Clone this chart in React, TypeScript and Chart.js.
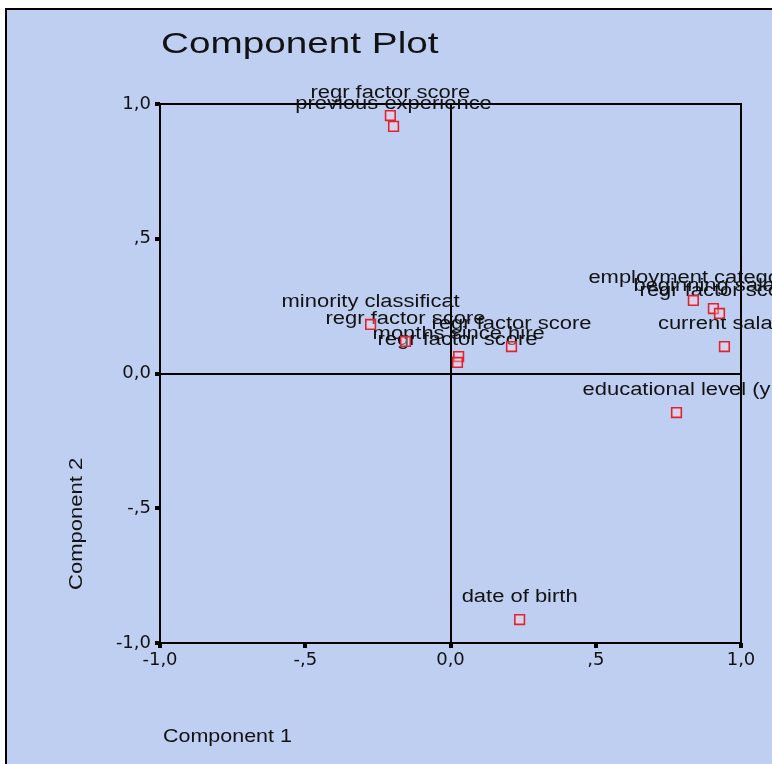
import React, { useEffect, useRef } from 'react';
import { Chart, registerables } from 'chart.js';

Chart.register(...registerables);

// ---- data ----
const variableNames = [
  'regr factor score',
  'previous experience',
  'minority classification',
  'regr factor score',
  'months since hire',
  'regr factor score',
  'regr factor score',
  'employment category',
  'beginning salary',
  'regr factor score',
  'current salary',
  'educational level (years)',
  'date of birth',
];
const component1 = [-0.207, -0.196, -0.275, -0.155, 0.028, 0.024, 0.21, 0.836, 0.905, 0.926, 0.943, 0.778, 0.238];
const component2 = [0.957, 0.917, 0.182, 0.119, 0.063, 0.041, 0.1, 0.271, 0.241, 0.223, 0.1, -0.145, -0.913];
const tickValues = [-1, -0.5, 0, 0.5, 1];
const tickLabels = ['-1,0', '-,5', '0,0', ',5', '1,0'];
const chartTitle = 'Component Plot';
const xTitle = 'Component 1';
const yTitle = 'Component 2';
const labelMaxChars = 20;

const BG = '#BFCFF1';
const TEXT = '#121212';
const FONT = '"Liberation Sans", Arial, sans-serif';

function tickText(value: number) {
  const i = tickValues.findIndex((t) => Math.abs(t - value) < 1e-9);
  return i >= 0 ? tickLabels[i] : '';
}

function wideText(ctx: CanvasRenderingContext2D, text: string, x: number, y: number, stretch: number, rot = 0) {
  ctx.save();
  ctx.translate(x, y);
  if (rot) ctx.rotate(rot);
  ctx.scale(stretch, 1);
  ctx.fillText(text, 0, 0);
  ctx.restore();
}

const decorPlugin = {
  id: 'decor',
  beforeDraw(chart: any) {
    const { ctx, width, height } = chart;
    ctx.save();
    ctx.fillStyle = '#ffffff';
    ctx.fillRect(0, 0, width, height);
    ctx.fillStyle = BG;
    ctx.fillRect(5, 8, width - 5, height - 8);
    ctx.fillStyle = '#000000';
    ctx.fillRect(5, 8, width - 5, 2);
    ctx.fillRect(5, 8, 2, height - 8);
    ctx.restore();
  },
  beforeDatasetsDraw(chart: any) {
    const { ctx, chartArea } = chart;
    ctx.save();
    // frame
    ctx.strokeStyle = '#000000';
    ctx.lineWidth = 2;
    ctx.strokeRect(chartArea.left, chartArea.top, chartArea.right - chartArea.left, chartArea.bottom - chartArea.top);
    // texts
    ctx.fillStyle = TEXT;
    ctx.textBaseline = 'alphabetic';
    ctx.textAlign = 'left';
    ctx.font = `30px ${FONT}`;
    wideText(ctx, chartTitle, chartArea.left + 1, 53, 1.29);
    ctx.font = `19px ${FONT}`;
    wideText(ctx, xTitle, chartArea.left + 3, 742, 1.13);
    wideText(ctx, yTitle, 82, 590, 1.16, -Math.PI / 2);
    // point labels
    const stretch = 1.22;
    ctx.font = `18px ${FONT}`;
    const meta = chart.getDatasetMeta(0);
    meta.data.forEach((el: any, i: number) => {
      const text = variableNames[i].slice(0, labelMaxChars);
      const w = ctx.measureText(text).width * stretch;
      wideText(ctx, text, el.x - w / 2, el.y - 17.5, stretch);
    });
    ctx.restore();
  },
};

export default function App() {
  const ref = useRef<HTMLCanvasElement | null>(null);

  useEffect(() => {
    document.body.style.margin = '0';
    const canvas = ref.current;
    if (!canvas) return;
    const points = component1.map((x, i) => ({ x, y: component2[i] }));
    const gridColor = (c: any) => (c.tick && Math.abs(c.tick.value) < 1e-9 ? '#000000' : 'rgba(0,0,0,0)');
    const tickFont = { family: '"DejaVu Sans", sans-serif', size: 18 };
    const chart = new Chart(canvas, {
      type: 'scatter',
      data: {
        datasets: [
          {
            data: points,
            pointStyle: 'rect',
            pointRadius: 6.8,
            pointHoverRadius: 6.8,
            borderColor: '#E3222F',
            backgroundColor: 'rgba(255,220,225,0.35)',
            borderWidth: 1.6,
          },
        ],
      },
      options: {
        animation: false,
        responsive: false,
        devicePixelRatio: 1,
        layout: { padding: { left: 0, right: 31, top: 104, bottom: 0 } },
        plugins: { legend: { display: false }, tooltip: { enabled: false }, title: { display: false } },
        scales: {
          x: {
            type: 'linear',
            position: 'bottom',
            min: -1,
            max: 1,
            afterFit: (s: any) => {
              s.height = 121;
            },
            border: { display: false },
            grid: { color: gridColor, lineWidth: 2, tickColor: '#000000', tickLength: 5, tickWidth: 4 },
            ticks: {
              stepSize: 0.5,
              autoSkip: false,
              maxRotation: 0,
              padding: 2,
              color: TEXT,
              font: tickFont,
              callback: (v: any) => tickText(Number(v)),
            },
          },
          y: {
            type: 'linear',
            position: 'left',
            min: -1,
            max: 1,
            afterFit: (s: any) => {
              s.width = 160;
            },
            border: { display: false },
            grid: { color: gridColor, lineWidth: 2, tickColor: '#000000', tickLength: 5, tickWidth: 4 },
            ticks: {
              stepSize: 0.5,
              autoSkip: false,
              padding: 4,
              color: TEXT,
              font: tickFont,
              callback: (v: any) => tickText(Number(v)),
            },
          },
        },
      },
      plugins: [decorPlugin],
    });
    return () => chart.destroy();
  }, []);

  return <canvas ref={ref} width={772} height={764} style={{ display: 'block' }} />;
}
